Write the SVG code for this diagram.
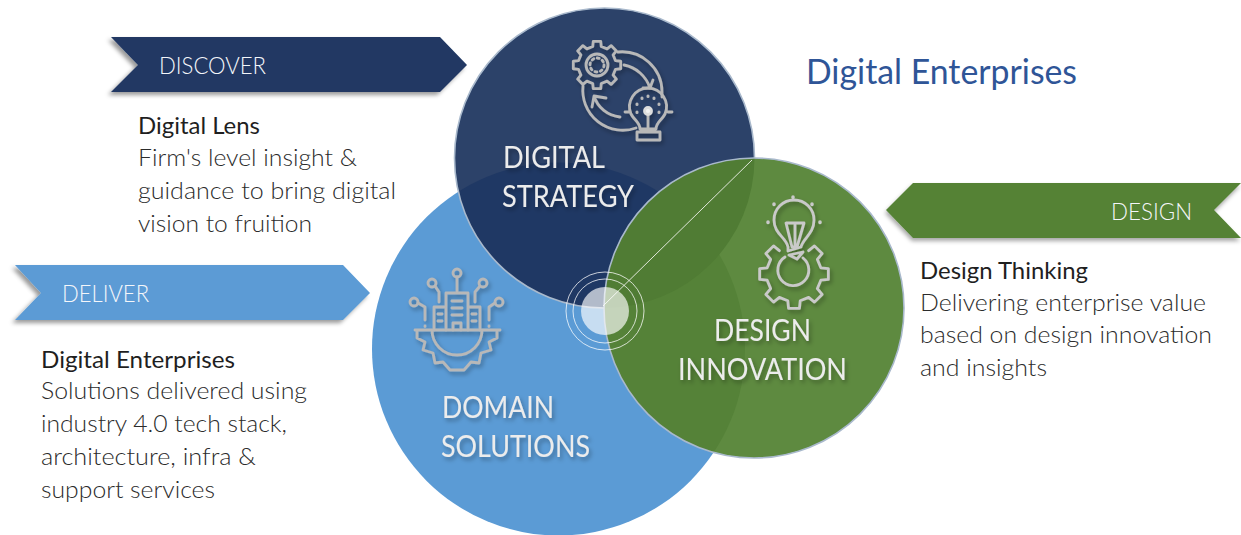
<svg xmlns="http://www.w3.org/2000/svg" xmlns:xlink="http://www.w3.org/1999/xlink" width="1241" height="535" viewBox="0 0 1241 535">
<style>
text{font-family:"Lato","Open Sans","Liberation Sans",sans-serif;transform:translateX(-1px)}
.tag{font-size:23px;font-weight:300;fill:#f4f6fa}
.head{font-size:24px;font-weight:400;fill:#1f1f1f}
.body{font-size:24px;font-weight:300;fill:#2b2b2b}
.cap{font-size:31px;font-weight:400;fill:#ececec;filter:url(#ts)}
.ico{fill:none;stroke:#b8b8b8;stroke-width:2.8;stroke-linecap:round;stroke-linejoin:round;filter:url(#ts)}
.edge{fill:none;stroke:#a9b9cc;stroke-width:1.6}
.ring{fill:none;stroke:#fff;stroke-opacity:.75;stroke-width:1}
</style>
<defs>
<filter id="ts" x="-20%" y="-30%" width="140%" height="170%"><feDropShadow dx="2" dy="3" stdDeviation="2" flood-color="#000" flood-opacity=".3"/></filter>
<filter id="as" x="-5%" y="-20%" width="110%" height="150%"><feDropShadow dx="-3" dy="3" stdDeviation="2.2" flood-color="#000" flood-opacity=".4"/></filter>
<filter id="asr" x="-5%" y="-20%" width="110%" height="150%"><feDropShadow dx="-1" dy="3" stdDeviation="2.2" flood-color="#000" flood-opacity=".35"/></filter>
<clipPath id="cNavy"><circle cx="604.5" cy="158" r="150"/></clipPath>
<clipPath id="cGreen"><circle cx="754" cy="308" r="150"/></clipPath>
<polygon id="gear" points="18.5,-4.27 23.7,-3.75 23.7,3.75 18.5,4.27 16.1,10.1 19.4,14.1 14.1,19.4 10.1,16.1 4.27,18.5 3.75,23.7 -3.75,23.7 -4.27,18.5 -10.1,16.1 -14.1,19.4 -19.4,14.1 -16.1,10.1 -18.5,4.27 -23.7,3.75 -23.7,-3.75 -18.5,-4.27 -16.1,-10.1 -19.4,-14.1 -14.1,-19.4 -10.1,-16.1 -4.27,-18.5 -3.75,-23.7 3.75,-23.7 4.27,-18.5 10.1,-16.1 14.1,-19.4 19.4,-14.1 16.1,-10.1"/>
</defs>

<g id="node-domain-solutions">
<circle cx="558.5" cy="349" r="186.5" fill="#5b9bd5"/>
<g class="ico">
<path d="M415 330H500M417 330V338L425 342 423 350 433 353 435 363 443 362 450 370H464L471 362 479 363 481 353 491 350 489 342 497 338V330M432 330A25 25 0 0 0 482 330"/>
<path d="M446 330V293H468V330M434 330V307H446M468 307H480V330M452 301H462M452 308H462M452 315H462M453 330V323H461V330M438 314H442M438 321H442M472 314H476M472 321H476"/>
<circle cx="457" cy="273" r="4"/><path d="M457 277V292"/>
<circle cx="432" cy="283" r="4"/><path d="M435 286L439 292V302"/>
<circle cx="483" cy="283" r="4"/><path d="M480 286L475 292V302"/>
<circle cx="414" cy="302" r="4"/><path d="M418 303L425 307V320M425 326V326.5"/>
<circle cx="499" cy="302" r="4"/><path d="M495 303L489 307V320M489 326V326.5"/>
</g>
<text class="cap" x="443" y="418" textLength="112" lengthAdjust="spacingAndGlyphs">DOMAIN</text>
<text class="cap" x="442" y="457" textLength="149" lengthAdjust="spacingAndGlyphs">SOLUTIONS</text>
</g>

<g id="node-digital-strategy">
<circle cx="604.5" cy="158" r="150" fill="#2c4269"/>
<circle cx="558.5" cy="349" r="186.5" fill="#1f3864" clip-path="url(#cNavy)"/>
<circle class="edge" cx="604.5" cy="158" r="150"/>
<g class="ico">
<use xlink:href="#gear" x="597" y="65"/>
<circle cx="597" cy="65" r="11"/>
<circle cx="597" cy="65" r="7" stroke-dasharray="2 3.5"/>
<path d="M618 52A40 40 0 0 1 662 92V97M583 86A40 40 0 0 0 636 128"/>
<path d="M624 65A34 34 0 0 1 650 88M643 88H650L653 80M620 117A30 30 0 0 1 594 96M606 98L594 96 592 107"/>
<path d="M640 129C640 122 634 120 631 114A18.500 18.500 0 1 1 665 114C662 120 656 122 656 129H640ZM637 132H660V140H637ZM625 112H629M668 112H672"/>
<path d="M648 114V129"/>
<circle cx="648" cy="111" r="3.500" fill="#f2f2f2" stroke="#ddd"/>
<path d="M637 104V104.500M642 98V98.500M648 96V96.500M654 98V98.500M659 104V104.500M637 112V112.500M659 112V112.500" stroke-width="3"/>
</g>
<text class="cap" x="504" y="168" textLength="102" lengthAdjust="spacingAndGlyphs">DIGITAL</text>
<text class="cap" x="503" y="207" textLength="132" lengthAdjust="spacingAndGlyphs">STRATEGY</text>
</g>

<g id="node-design-innovation">
<circle cx="754" cy="308" r="150" fill="#5e8a40"/>
<g clip-path="url(#cGreen)">
<circle cx="558.5" cy="349" r="186.5" fill="#558238"/>
<circle cx="604.5" cy="158" r="150" fill="#507c34"/>
</g>
<circle class="edge" cx="754" cy="308" r="150"/>
<g class="ico" style="stroke:#c9c9c9">
<path transform="translate(794 274) scale(1.45)" vector-effect="non-scaling-stroke" d="M10.1 -16.100 14.100 -19.400 19.400 -14.100 16.100 -10.100 18.500 -4.270 23.700 -3.750 23.700 3.750 18.500 4.270 16.100 10.100 19.400 14.100 14.100 19.400 10.100 16.100 4.270 18.500 3.750 23.700 -3.750 23.700 -4.270 18.500 -10.100 16.100 -14.100 19.400 -19.400 14.100 -16.100 10.100 -18.500 4.270 -23.700 3.750 -23.700 -3.750 -18.500 -4.270 -16.100 -10.100 -19.400 -14.100 -14.100 -19.400 -10.100 -16.100"/>
<path d="M785 257A15.500 15.500 0 1 0 803 258"/>
<path d="M788 247C786 237 774 234 774 220A20 20 0 0 1 814 220C814 234 803 238 801 247L788 251Z"/>
<path d="M786 223L804 223 797 247H792ZM795 223V247M789 255L803 252 797 259Z"/>
<path d="M793 197V197.500M774 204V204.500M812 204V204.500M768 222V222.500M820 222V222.500" stroke-width="3.500"/>
</g>
<text class="cap" x="715" y="341" textLength="97" lengthAdjust="spacingAndGlyphs">DESIGN</text>
<text class="cap" x="679" y="380" textLength="169" lengthAdjust="spacingAndGlyphs">INNOVATION</text>
</g>

<g id="connectors">
<line x1="603" y1="306" x2="752" y2="160" stroke="#dfe6d8" stroke-width="1"/>
</g>

<g id="node-hub">
<circle cx="605" cy="311" r="24" fill="#fff" fill-opacity=".66"/>
<circle class="ring" cx="605" cy="311" r="32"/>
<circle class="ring" cx="605" cy="311" r="39"/>
</g>

<g id="node-discover">
<polygon points="111,37 440,37 467,65 440,92 111,92 138,65" fill="#203864" filter="url(#as)"/>
<text class="tag" x="160" y="74" textLength="107" lengthAdjust="spacingAndGlyphs">DISCOVER</text>
<text class="head" x="139" y="134" textLength="122" lengthAdjust="spacingAndGlyphs">Digital Lens</text>
<text class="body" x="139" y="166" textLength="219" lengthAdjust="spacingAndGlyphs">Firm's level insight &amp;</text>
<text class="body" x="139" y="199" textLength="258" lengthAdjust="spacingAndGlyphs">guidance to bring digital</text>
<text class="body" x="139" y="232" textLength="174" lengthAdjust="spacingAndGlyphs">vision to fruition</text>
</g>

<g id="node-deliver">
<polygon points="15,265 343,265 370,293 343,320 15,320 41,293" fill="#5b9bd5" filter="url(#as)"/>
<text class="tag" x="63" y="302" textLength="87" lengthAdjust="spacingAndGlyphs">DELIVER</text>
<text class="head" x="42" y="368" textLength="194" lengthAdjust="spacingAndGlyphs">Digital Enterprises</text>
<text class="body" x="42" y="399" textLength="266" lengthAdjust="spacingAndGlyphs">Solutions delivered using</text>
<text class="body" x="42" y="432" textLength="246" lengthAdjust="spacingAndGlyphs">industry 4.0 tech stack,</text>
<text class="body" x="42" y="465" textLength="215" lengthAdjust="spacingAndGlyphs">architecture, infra &amp;</text>
<text class="body" x="42" y="498" textLength="174" lengthAdjust="spacingAndGlyphs">support services</text>
</g>

<g id="node-design">
<polygon points="886,210 913,183 1241,183 1214,210 1241,238 913,238" fill="#548235" filter="url(#asr)"/>
<text class="tag" x="1112" y="220" textLength="81" lengthAdjust="spacingAndGlyphs">DESIGN</text>
<text class="head" x="921" y="279" textLength="168" lengthAdjust="spacingAndGlyphs">Design Thinking</text>
<text class="body" x="921" y="311" textLength="286" lengthAdjust="spacingAndGlyphs">Delivering enterprise value</text>
<text class="body" x="921" y="343" textLength="292" lengthAdjust="spacingAndGlyphs">based on design innovation</text>
<text class="body" x="921" y="376" textLength="127" lengthAdjust="spacingAndGlyphs">and insights</text>
</g>

<text id="title" x="807" y="84" font-size="34" fill="#2f5597" textLength="271" lengthAdjust="spacingAndGlyphs">Digital Enterprises</text>
</svg>
